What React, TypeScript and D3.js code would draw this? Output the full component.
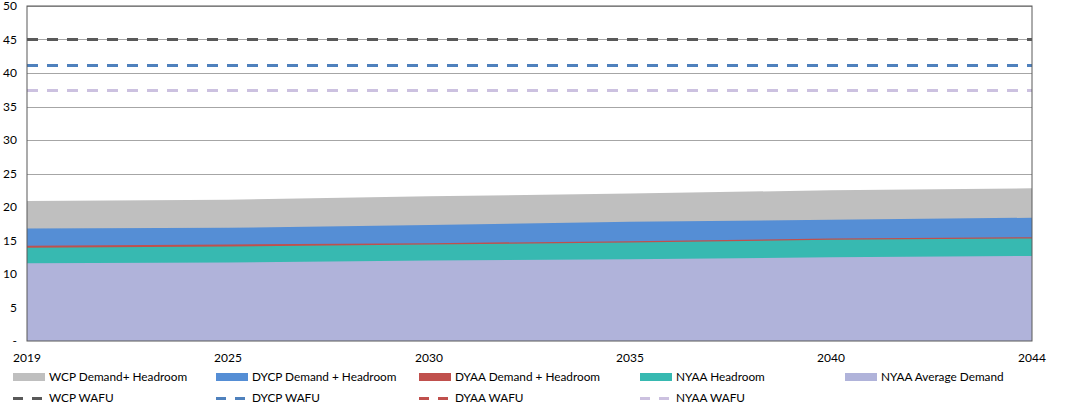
// App.tsx
import React from 'react'
import * as d3 from 'd3'

// x positions are category indexes (0 = first year, 25 = last year)
const xIndex = [0, 5, 10, 15, 20, 25]
const xLabels = ['2019', '2025', '2030', '2035', '2040', '2044']

// area tops, read at each labelled category
const wcpDemand = [20.9, 21.1, 21.6, 22.0, 22.5, 22.8]
const dycpDemand = [16.8, 16.9, 17.3, 17.8, 18.1, 18.4]
const dyaaDemand = [14.2, 14.4, 14.6, 14.9, 15.3, 15.5]
const nyaaHeadroom = [13.9, 14.1, 14.4, 14.7, 15.1, 15.3]
const nyaaAverage = [11.6, 11.7, 12.0, 12.2, 12.5, 12.7]

// flat WAFU levels
const wafuNames = ['WCP WAFU', 'DYCP WAFU', 'DYAA WAFU', 'NYAA WAFU']
const wafuValues = [45, 41.2, 45, 37.4]

const yTicks = [0, 5, 10, 15, 20, 25, 30, 35, 40, 45, 50]

const areaSeries = [
  { name: 'WCP Demand+ Headroom', values: wcpDemand, color: '#bfbfbf' },
  { name: 'DYCP Demand + Headroom', values: dycpDemand, color: '#558ed5' },
  { name: 'DYAA Demand + Headroom', values: dyaaDemand, color: '#c0504d' },
  { name: 'NYAA Headroom', values: nyaaHeadroom, color: '#37b9b1' },
  { name: 'NYAA Average Demand', values: nyaaAverage, color: '#b0b3da' },
]
const wafuColors: Record<string, string> = {
  'WCP WAFU': '#595959',
  'DYCP WAFU': '#4f81bd',
  'DYAA WAFU': '#c0504d',
  'NYAA WAFU': '#ccc1e0',
}

const W = 1066
const H = 409
const margin = { left: 27, right: 34, top: 6, bottom: 68 }
const FONT = 'Lato, "Open Sans", sans-serif'

export default function App() {
  const ref = React.useRef<SVGSVGElement>(null)

  React.useEffect(() => {
    document.body.style.margin = '0'
    const svg = d3.select(ref.current!)
    svg.selectAll('*').remove()

    const x = d3.scaleLinear().domain([0, 25]).range([margin.left, W - margin.right])
    const y = d3.scaleLinear().domain([0, 50]).range([H - margin.bottom, margin.top])

    // gridlines
    svg.append('g')
      .selectAll('line')
      .data(yTicks.slice(1))
      .join('line')
      .attr('x1', x(0)).attr('x2', x(25))
      .attr('y1', d => Math.round(y(d)) + 0.5).attr('y2', d => Math.round(y(d)) + 0.5)
      .attr('stroke', '#a6a6a6')
      .attr('stroke-width', 1)

    // areas, largest first so smaller ones sit on top
    const area = d3.area<number>()
      .x((_, i) => x(xIndex[i]))
      .y0(y(0))
      .y1(d => y(d))
    svg.append('g')
      .selectAll('path')
      .data(areaSeries)
      .join('path')
      .attr('d', s => area(s.values))
      .attr('fill', s => s.color)

    // WAFU dashed lines; WCP drawn last (it covers DYAA at the same level)
    const wafu = wafuNames.map((n, i) => ({ name: n, value: wafuValues[i] }))
    const drawOrder = [wafu[2], wafu[3], wafu[1], wafu[0]]
    svg.append('g')
      .selectAll('line')
      .data(drawOrder)
      .join('line')
      .attr('x1', x(0)).attr('x2', x(25))
      .attr('y1', d => Math.round(y(d.value)) + 0.5).attr('y2', d => Math.round(y(d.value)) + 0.5)
      .attr('stroke', d => wafuColors[d.name])
      .attr('stroke-width', 3)
      .attr('shape-rendering', 'crispEdges')
      .attr('stroke-dasharray', '11 9')

    // plot border
    svg.append('rect')
      .attr('x', x(0)).attr('y', y(50))
      .attr('width', x(25) - x(0)).attr('height', y(0) - y(50))
      .attr('fill', 'none')
      .attr('stroke', '#595959')
      .attr('stroke-width', 1)

    // y axis labels
    svg.append('g')
      .selectAll('text')
      .data(yTicks)
      .join('text')
      .attr('x', 17)
      .attr('y', d => y(d))
      .attr('dy', '0.35em')
      .attr('text-anchor', 'end')
      .style('font', `12px ${FONT}`)
      .attr('fill', '#000')
      .text(d => (d === 0 ? '-' : String(d)))

    // x axis labels
    svg.append('g')
      .selectAll('text')
      .data(xIndex)
      .join('text')
      .attr('x', d => x(d))
      .attr('y', 358)
      .attr('dy', '0.35em')
      .attr('text-anchor', 'middle')
      .style('font', `12px ${FONT}`)
      .attr('fill', '#000')
      .text((_, i) => xLabels[i])

    // legend
    const colX = [13, 216, 419, 640, 845]
    const row1 = svg.append('g')
    areaSeries.forEach((s, i) => {
      row1.append('rect')
        .attr('x', colX[i]).attr('y', 373)
        .attr('width', 32).attr('height', 8)
        .attr('fill', s.color)
      row1.append('text')
        .attr('x', colX[i] + 36).attr('y', 377)
        .attr('dy', '0.35em')
        .style('font', `11.8px ${FONT}`)
        .text(s.name)
    })
    const row2 = svg.append('g')
    wafuNames.forEach((n, i) => {
      row2.append('line')
        .attr('x1', colX[i]).attr('x2', colX[i] + 32)
        .attr('y1', 398.5).attr('y2', 398.5)
        .attr('stroke', wafuColors[n])
        .attr('stroke-width', 3)
        .attr('shape-rendering', 'crispEdges')
        .attr('stroke-dasharray', '10 9')
      row2.append('text')
        .attr('x', colX[i] + 36).attr('y', 398)
        .attr('dy', '0.35em')
        .style('font', `11.8px ${FONT}`)
        .text(n)
    })
  }, [])

  return <svg ref={ref} width={W} height={H} style={{ display: 'block' }} />
}
